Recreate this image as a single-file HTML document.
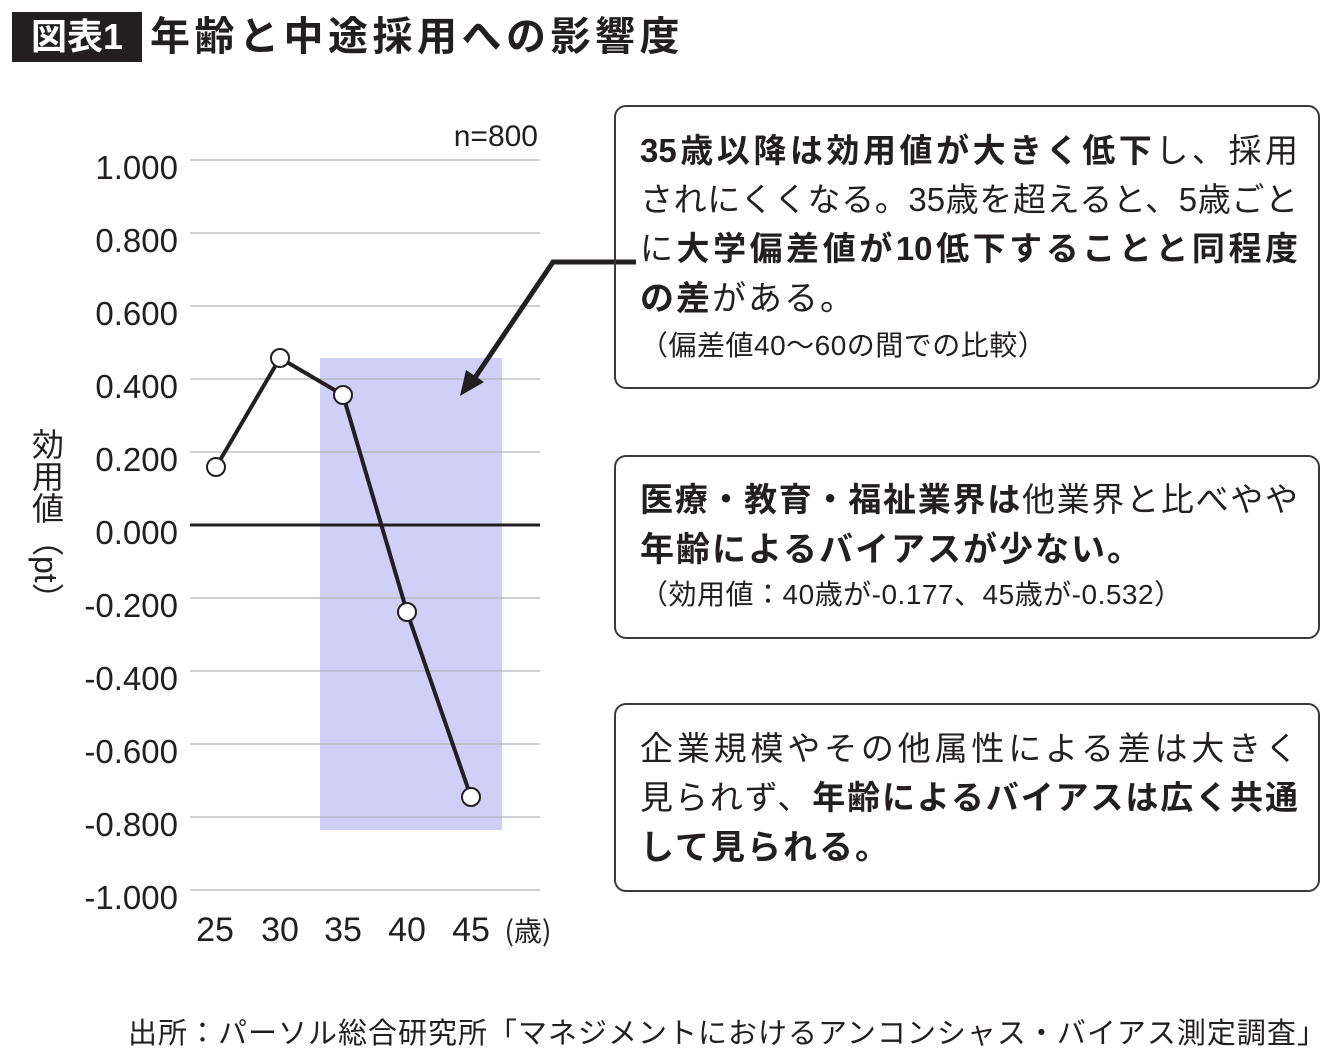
<!DOCTYPE html>
<html><head><meta charset="utf-8"><style>
body{margin:0;width:1340px;height:1059px;background:#fff;font-family:"Liberation Sans","Noto Sans CJK JP",sans-serif;color:#231f20;position:relative;overflow:hidden}
.box{position:absolute;left:614px;width:706px;border:2px solid #3a3a3a;border-radius:12px;box-sizing:border-box}
.t{position:absolute;left:640px;font-size:34px;white-space:nowrap;letter-spacing:2px}
.j{width:658px;white-space:normal;letter-spacing:0;text-align:justify;text-align-last:justify;text-justify:inter-character;font-size:33px}
.s{font-size:28px;letter-spacing:0.5px}
b{font-weight:bold}
</style></head><body>
<div style="position:absolute;left:12px;top:12px;width:130px;height:50px;background:#231f20;color:#fff;font-size:36px;line-height:50px;text-align:center;font-weight:bold">図表1</div>
<div style="position:absolute;left:150px;top:12px;font-size:40px;line-height:50px;font-weight:bold;letter-spacing:4.5px">年齢と中途採用への影響度</div>

<svg style="position:absolute;left:0;top:0" width="1340" height="1059">
<rect x="320" y="358" width="182" height="472" fill="#cfcff7"/>
<g stroke="#b5b5b5" stroke-width="1.2">
<line x1="190" x2="540" y1="160" y2="160"/><line x1="190" x2="540" y1="233" y2="233"/><line x1="190" x2="540" y1="306" y2="306"/><line x1="190" x2="540" y1="379" y2="379"/><line x1="190" x2="540" y1="452" y2="452"/><line x1="190" x2="540" y1="598" y2="598"/><line x1="190" x2="540" y1="671" y2="671"/><line x1="190" x2="540" y1="744" y2="744"/><line x1="190" x2="540" y1="817" y2="817"/><line x1="190" x2="540" y1="890" y2="890"/>
</g>
<line x1="190" x2="540" y1="525" y2="525" stroke="#231f20" stroke-width="3"/>
<polyline points="216,467 280,358 343,395 407,612 471,797" fill="none" stroke="#231f20" stroke-width="4"/>
<g fill="#fff" stroke="#231f20" stroke-width="2"><circle cx="216" cy="467" r="9"/><circle cx="280" cy="358" r="9"/><circle cx="343" cy="395" r="9"/><circle cx="407" cy="612" r="9"/><circle cx="471" cy="797" r="9"/></g>
<g font-size="33" text-anchor="end" fill="#231f20" font-family="Liberation Sans,sans-serif">
<text x="178" y="179">1.000</text><text x="178" y="252">0.800</text><text x="178" y="325">0.600</text><text x="178" y="398">0.400</text><text x="178" y="471">0.200</text><text x="178" y="544">0.000</text><text x="178" y="617">-0.200</text><text x="178" y="690">-0.400</text><text x="178" y="763">-0.600</text><text x="178" y="836">-0.800</text><text x="178" y="909">-1.000</text>
<text x="538" y="146" font-size="30">n=800</text>
</g>
<g font-size="34" text-anchor="middle" fill="#231f20" font-family="Liberation Sans,sans-serif">
<text x="215" y="941">25</text><text x="280" y="941">30</text><text x="343" y="941">35</text><text x="407" y="941">40</text><text x="471" y="941">45</text>
</g>
<text x="528" y="941" font-size="28" text-anchor="middle" fill="#231f20" font-family="Noto Sans CJK JP,sans-serif">(歳)</text>
<polyline points="636,262 553,262 470,385" fill="none" stroke="#231f20" stroke-width="5"/>
<polygon points="460,396 466,370 484,382" fill="#231f20"/>
</svg>
<div style="position:absolute;left:26px;top:428px;font-size:32px;line-height:40px;writing-mode:vertical-rl;white-space:nowrap">効用値（pt）</div>

<div class="box" style="top:105px;height:284px"></div>
<div class="t j" style="top:124px"><b>35歳以降は効用値が大きく低下</b>し、採用</div>
<div class="t j" style="top:173px">されにくくなる。35歳を超えると、5歳ごと</div>
<div class="t j" style="top:222px">に<b>大学偏差値が10低下することと同程度</b></div>
<div class="t" style="top:271px"><b>の差</b>がある。</div>
<div class="t s" style="top:324px">（偏差値40～60の間での比較）</div>

<div class="box" style="top:455px;height:184px"></div>
<div class="t j" style="top:473px"><b>医療・教育・福祉業界は</b>他業界と比べやや</div>
<div class="t" style="top:522px"><b>年齢によるバイアスが少ない。</b></div>
<div class="t s" style="top:573px">（効用値：40歳が-0.177、45歳が-0.532）</div>

<div class="box" style="top:703px;height:189px"></div>
<div class="t j" style="top:722px">企業規模やその他属性による差は大きく</div>
<div class="t j" style="top:771px">見られず、<b>年齢によるバイアスは広く共通</b></div>
<div class="t" style="top:820px"><b>して見られる。</b></div>

<div style="position:absolute;left:128px;top:1010px;font-size:29px;white-space:nowrap;letter-spacing:1px">出所：パーソル総合研究所「マネジメントにおけるアンコンシャス・バイアス測定調査」</div>
</body></html>
